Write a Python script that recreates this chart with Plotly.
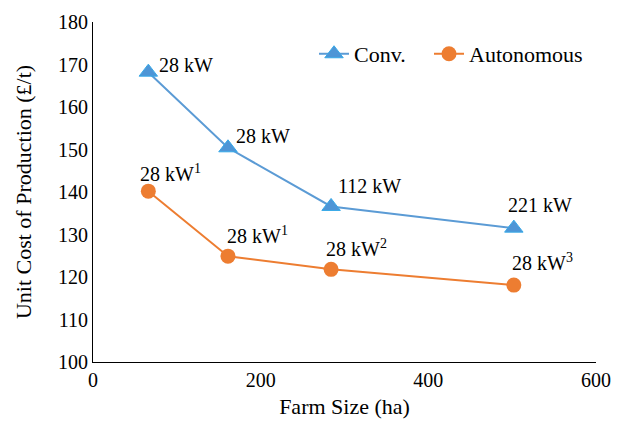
import plotly.graph_objects as go

farm_size = [66, 161, 284, 502]
conv_cost = [168.2, 150.4, 136.6, 131.5]
auto_cost = [140.2, 124.9, 121.8, 118.1]
conv_labels = ["28 kW", "28 kW", "112 kW", "221 kW"]
auto_labels = ["28 kW<sup>1</sup>", "28 kW<sup>1</sup>", "28 kW<sup>2</sup>", "28 kW<sup>3</sup>"]

font = "Liberation Serif, Times New Roman, serif"

fig = go.Figure()
fig.add_trace(go.Scatter(
    x=farm_size, y=conv_cost, name="Conv.", mode="lines+markers",
    line=dict(color="#5B9BD5", width=2),
    marker=dict(symbol="triangle-up", size=16, color="#4E95D6",
                line=dict(color="#36A9E8", width=1)),
    legend="legend",
))
fig.add_trace(go.Scatter(
    x=farm_size, y=auto_cost, name="Autonomous", mode="lines+markers",
    line=dict(color="#ED7D31", width=2),
    marker=dict(symbol="circle", size=15, color="#ED7D31"),
    legend="legend2",
))

conv_shift = [(9, 7), (6, 12), (5, 20), (-8, 23)]
auto_shift = [(-10, 18), (-3, 21), (-7, 21), (-4, 23)]
anns = []
for xv, yv, t, (dx, dy) in zip(farm_size, conv_cost, conv_labels, conv_shift):
    anns.append(dict(x=xv, y=yv, text=t, showarrow=False, xanchor="left", yanchor="middle",
                     xshift=dx, yshift=dy, font=dict(family=font, size=20, color="black")))
for xv, yv, t, (dx, dy) in zip(farm_size, auto_cost, auto_labels, auto_shift):
    anns.append(dict(x=xv, y=yv, text=t, showarrow=False, xanchor="left", yanchor="middle",
                     xshift=dx, yshift=dy, font=dict(family=font, size=20, color="black")))

leg_common = dict(orientation="h", xanchor="left", yanchor="middle",
                  font=dict(family=font, size=22, color="black"), bgcolor="rgba(0,0,0,0)")

fig.update_layout(
    width=612, height=416,
    margin=dict(l=85, r=24, t=14, b=62),
    plot_bgcolor="white", paper_bgcolor="white",
    font=dict(family=font, size=20, color="black"),
    annotations=anns,
    showlegend=True,
    legend=dict(x=0.4394, y=0.906, **leg_common),
    legend2=dict(x=0.668, y=0.906, **leg_common),
    xaxis=dict(range=[0, 600], dtick=200, showgrid=False, zeroline=False, automargin=False,
               showline=True, linecolor="black", linewidth=1, ticks="",
               tickfont=dict(family=font, size=20, color="black"),
               title=dict(text="Farm Size (ha)", font=dict(family=font, size=22, color="black"), standoff=8)),
    yaxis=dict(range=[100, 180], dtick=10, showgrid=False, zeroline=False, automargin=False,
               showline=True, linecolor="black", linewidth=1, ticks="",
               tickfont=dict(family=font, size=20, color="black"),
               title=dict(text="Unit Cost of Production (£/t)", font=dict(family=font, size=22, color="black"), standoff=20)),
)
fig.write_html("out.html")
